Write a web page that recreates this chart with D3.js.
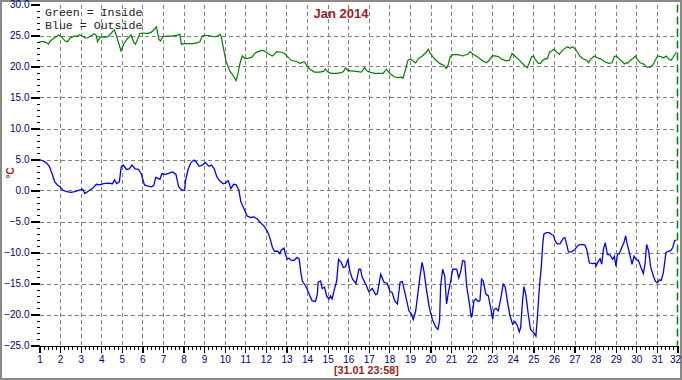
<!DOCTYPE html>
<html>
<head>
<meta charset="utf-8">
<script src="https://cdn.jsdelivr.net/npm/d3@7"></script>
<style>
  html, body { margin: 0; padding: 0; background: #fff; }
  svg { display: block; }
</style>
</head>
<body>
<svg id="chart" width="682" height="380"></svg>
<script>
// ---- data ----
const title = "Jan 2014";
const stamp = "[31.01 23:58]";
const legendLines = ["Green = Inside", "Blue = Outside"];
const unitLabel = "°C";
const dayTicks = d3.range(1, 33);
const tempTicks = [-25, -20, -15, -10, -5, 0, 5, 10, 15, 20, 25, 30];

const insideDay = [1,1.19,1.32,1.44,1.49,1.71,1.93,2.09,2.25,2.36,2.49,2.69,2.85,2.95,3.06,3.22,3.34,3.5,3.66,3.76,3.82,3.92,4.02,4.15,4.31,4.44,4.57,4.64,4.77,4.96,5.09,5.25,5.45,5.58,5.66,5.77,5.87,6.06,6.23,6.42,6.58,6.68,6.8,6.88,7.0,7.2,7.44,7.69,7.82,7.89,8.01,8.18,8.42,8.66,8.79,8.91,9.02,9.23,9.47,9.6,9.68,9.77,9.83,9.93,10.06,10.24,10.42,10.55,10.64,10.74,10.85,10.98,11.12,11.33,11.45,11.61,11.82,11.93,12.1,12.31,12.42,12.53,12.76,12.91,13.02,13.23,13.47,13.67,13.8,13.88,13.96,14.12,14.36,14.61,14.8,14.9,15.01,15.18,15.42,15.66,15.77,15.87,16.0,16.15,16.39,16.63,16.71,16.81,16.9,17.05,17.28,17.53,17.69,17.77,17.85,17.93,18.09,18.26,18.42,18.58,18.66,18.79,18.9,19.02,19.15,19.28,19.39,19.6,19.79,19.89,19.99,20.2,20.44,20.64,20.77,20.85,20.96,21.09,21.33,21.57,21.7,21.82,21.93,22.06,22.3,22.55,22.72,22.85,23.0,23.13,23.29,23.45,23.67,23.83,23.96,24.1,24.27,24.43,24.59,24.7,24.8,24.92,25.0,25.08,25.24,25.35,25.45,25.56,25.68,25.78,25.89,26.0,26.13,26.26,26.38,26.49,26.65,26.78,26.91,27.03,27.14,27.27,27.43,27.59,27.68,27.79,27.95,28.11,28.28,28.44,28.66,28.82,28.93,29.03,29.14,29.3,29.42,29.51,29.58,29.71,29.84,29.95,30.04,30.19,30.35,30.51,30.68,30.81,30.92,31.04,31.17,31.33,31.46,31.57,31.69,31.82,31.94];
const insideTemp = [24.0,24.0,23.9,23.6,24.0,24.6,25.05,24.7,24.1,24.0,24.6,24.9,24.9,25.1,24.95,24.6,24.6,24.95,25.3,25.0,24.0,24.6,24.8,24.7,24.8,25.2,25.75,25.9,24.6,22.5,23.6,24.4,25.1,23.9,23.6,24.4,25.3,25.4,25.3,25.5,26.0,26.4,24.4,24.1,24.8,24.9,24.9,25.05,25.2,23.6,23.7,23.7,23.7,23.8,24.0,24.9,25.0,25.0,24.8,24.8,25.0,25.2,24.8,23.1,20.9,19.3,18.5,17.7,18.8,20.5,21.7,21.3,21.3,21.5,22.1,22.4,22.6,22.5,22.1,21.7,22.0,22.4,22.3,22.1,21.7,21.0,20.8,20.5,20.7,20.7,20.3,19.6,19.1,19.1,19.2,19.6,19.1,18.9,18.9,19.0,19.2,19.8,19.3,19.3,19.2,19.1,19.4,19.8,19.3,19.1,18.9,18.9,18.9,19.2,19.6,19.2,18.7,18.3,18.2,18.3,18.1,19.6,21.0,21.2,20.9,20.6,21.2,21.7,22.3,22.8,22.1,21.2,20.5,20.2,19.7,20.2,21.6,21.9,21.9,21.7,21.9,22.0,22.4,22.0,21.5,20.9,20.6,21.0,21.7,21.7,21.6,21.2,20.9,21.0,22.1,21.7,21.2,20.6,20.1,19.8,20.6,21.6,21.7,21.2,20.5,20.5,21.0,21.2,21.3,22.3,22.5,22.8,22.3,22.0,22.5,22.8,23.2,22.95,23.2,22.8,22.3,21.6,21.2,21.0,20.6,21.2,21.7,21.4,21.2,20.8,20.5,20.6,21.6,21.7,21.3,20.8,20.4,20.6,20.5,21.0,21.3,21.7,21.2,20.6,20.4,19.9,19.9,20.3,21.0,21.7,21.6,21.4,21.7,21.2,21.0,21.7,22.3];

const outsideDay = [1,1.16,1.32,1.48,1.61,1.74,1.87,2.0,2.13,2.32,2.54,2.7,2.94,3.1,3.2,3.4,3.6,3.76,3.95,4.1,4.3,4.55,4.65,4.75,4.88,4.97,5.07,5.23,5.36,5.49,5.65,5.81,5.94,6.1,6.27,6.46,6.56,6.65,6.85,6.95,7.14,7.3,7.47,7.63,7.76,7.92,8.05,8.1,8.23,8.36,8.5,8.62,8.75,8.91,9.07,9.23,9.36,9.49,9.62,9.75,9.92,10.04,10.17,10.3,10.43,10.56,10.69,10.78,10.93,11.09,11.25,11.42,11.58,11.74,11.9,12.06,12.19,12.32,12.42,12.58,12.68,12.75,12.88,12.94,13.04,13.12,13.2,13.36,13.52,13.62,13.69,13.77,13.93,14.0,14.14,14.25,14.41,14.5,14.54,14.66,14.74,14.85,14.95,15.06,15.14,15.22,15.31,15.44,15.53,15.66,15.76,15.87,15.99,16.08,16.21,16.38,16.52,16.6,16.68,16.85,17.0,17.17,17.33,17.41,17.58,17.74,17.9,18.03,18.14,18.26,18.39,18.52,18.63,18.79,18.95,19.07,19.16,19.28,19.39,19.49,19.59,19.68,19.81,19.94,20.09,20.25,20.36,20.44,20.49,20.59,20.69,20.78,20.88,20.98,21.08,21.27,21.37,21.47,21.56,21.66,21.76,21.87,21.98,22.04,22.11,22.2,22.32,22.4,22.48,22.56,22.69,22.81,22.92,23.02,23.08,23.18,23.29,23.41,23.53,23.63,23.73,23.86,23.99,24.1,24.22,24.31,24.38,24.47,24.54,24.64,24.75,24.86,25.03,25.12,25.19,25.29,25.38,25.45,25.51,25.64,25.77,25.88,25.97,26.05,26.16,26.29,26.45,26.53,26.61,26.7,26.86,27.02,27.18,27.34,27.5,27.59,27.72,27.88,28.01,28.04,28.12,28.24,28.32,28.4,28.49,28.59,28.72,28.85,28.93,29.01,29.08,29.17,29.29,29.4,29.48,29.56,29.66,29.79,29.89,29.98,30.1,30.26,30.34,30.42,30.5,30.6,30.7,30.83,30.92,31.02,31.12,31.21,31.31,31.44,31.56,31.67,31.77,31.86,31.93];
const outsideTemp = [5.0,4.8,4.5,3.9,2.7,1.4,0.9,0.6,0.05,-0.2,-0.3,-0.2,0.05,0.2,-0.5,-0.05,0.4,1.0,0.9,1.1,1.2,1.1,1.7,1.1,1.4,3.8,4.1,3.4,3.5,4.1,3.5,3.4,2.7,0.9,0.7,0.6,0.9,2.1,1.8,2.7,2.6,2.8,3.0,2.6,0.6,0.05,0.05,1.7,3.5,4.5,4.9,4.6,3.9,4.1,4.5,3.9,4.1,3.5,2.2,1.6,1.1,1.2,1.6,0.3,1.0,0.9,0.05,-1.8,-2.9,-4.1,-4.35,-4.25,-4.6,-5.2,-5.7,-6.5,-7.6,-9.2,-9.8,-9.8,-10.2,-9.6,-9.3,-10.2,-11.1,-10.9,-11.2,-11.3,-10.8,-11.1,-13.0,-14.6,-15.4,-15.9,-17.0,-17.8,-17.9,-16.7,-14.8,-14.6,-15.8,-15.6,-17.0,-17.5,-17.0,-17.5,-16.2,-14.6,-11.1,-11.6,-12.4,-12.3,-11.1,-13.0,-14.3,-15.0,-12.7,-12.7,-14.0,-15.1,-16.3,-15.8,-16.8,-16.7,-13.5,-14.8,-15.0,-16.3,-16.5,-17.8,-18.3,-14.8,-14.7,-17.0,-19.4,-19.9,-20.8,-19.4,-16.5,-13.8,-11.6,-13.0,-16.2,-18.9,-20.8,-22.0,-22.4,-21.0,-15.4,-12.7,-13.8,-18.3,-16.2,-14.6,-12.7,-12.7,-14.1,-13.0,-11.3,-11.4,-15.6,-17.8,-20.5,-19.7,-17.8,-17.5,-17.9,-17.8,-14.3,-14.6,-16.7,-17.0,-18.9,-20.8,-19.2,-19.0,-19.4,-17.5,-15.1,-15.6,-17.8,-20.2,-21.6,-21.1,-21.8,-22.8,-22.1,-17.8,-15.5,-17.0,-20.0,-22.4,-23.0,-23.5,-20.5,-15.6,-12.4,-8.7,-7.0,-6.8,-6.8,-7.1,-7.2,-8.1,-8.6,-8.6,-7.7,-7.6,-8.6,-9.9,-9.9,-9.5,-8.8,-8.7,-8.8,-9.5,-11.7,-11.8,-11.7,-12.2,-11.6,-11.0,-11.9,-9.5,-8.4,-10.3,-10.4,-11.1,-10.6,-12.2,-10.3,-10.2,-9.2,-8.4,-7.3,-8.7,-10.0,-11.9,-10.6,-11.1,-11.3,-12.7,-13.4,-11.9,-8.7,-9.8,-12.4,-13.8,-14.6,-14.9,-14.4,-14.5,-13.3,-10.0,-9.8,-9.7,-9.2,-8.1,-8.0];

// ---- drawing ----
const svg = d3.select("#chart");
const W = 682, H = 380;
const mLeft = 39.5, mRight = 677.5, mTop = 4.5, mBottom = 345.5;

const x = d3.scaleLinear().domain([1, 32]).range([mLeft, mRight]);
const y = d3.scaleLinear().domain([-25, 30]).range([mBottom, mTop]);

svg.append("rect").attr("width", W).attr("height", H).attr("fill", "#fff");
svg.append("rect").attr("x", 1).attr("y", 1).attr("width", W - 2).attr("height", H - 2)
  .attr("fill", "none").attr("stroke", "#8a8a8a").attr("stroke-width", 2);

const navy = "#000080";
const font = "'Liberation Sans', Arial, sans-serif";
const tickFont = "'Liberation Sans Narrow', 'Arial Narrow', 'Liberation Sans', Arial, sans-serif";

// grid
const grid = svg.append("g").attr("stroke", "#808080").attr("stroke-width", 1)
  .attr("stroke-dasharray", "4,3").attr("shape-rendering", "crispEdges");
grid.selectAll("line.v").data(dayTicks.filter(d => d > 1 && d < 32)).join("line")
  .attr("class", "v")
  .attr("x1", d => Math.round(x(d)) + 0.5).attr("x2", d => Math.round(x(d)) + 0.5)
  .attr("y1", mTop).attr("y2", mBottom);
grid.selectAll("line.h").data(tempTicks.filter(t => t > -25 && t < 30)).join("line")
  .attr("class", "h")
  .attr("x1", mLeft).attr("x2", mRight)
  .attr("y1", d => Math.round(y(d)) + 0.5).attr("y2", d => Math.round(y(d)) + 0.5);

// current-time marker
svg.append("line").attr("x1", Math.round(x(32)) - 0.5).attr("x2", Math.round(x(32)) - 0.5)
  .attr("y1", mTop).attr("y2", mBottom)
  .attr("stroke", "#008000").attr("stroke-width", 1.5).attr("stroke-dasharray", "8,4");

// y axis minor ticks
const yMinor = d3.range(-25, 31).filter(v => v % 5 !== 0);
svg.append("g").attr("transform", `translate(${mLeft},0)`)
  .call(d3.axisLeft(y).tickValues(yMinor).tickSize(3).tickFormat(""))
  .call(g => g.select(".domain").remove())
  .call(g => g.selectAll("line").attr("stroke", "#000").attr("shape-rendering", "crispEdges"));
// y axis major
svg.append("g").attr("transform", `translate(${mLeft},0)`)
  .call(d3.axisLeft(y).tickValues(tempTicks).tickSize(9).tickPadding(1).tickFormat(d3.format(".1f")))
  .call(g => g.select(".domain").remove())
  .call(g => g.selectAll("line").attr("stroke", "#000").attr("stroke-width", 1.2).attr("shape-rendering", "crispEdges"))
  .call(g => g.selectAll("text").attr("fill", navy).attr("font-family", tickFont).attr("font-size", 10));

// x axis minor ticks
const xMinor = d3.range(0, 31 * 5).map(i => 1 + i / 5).filter((v, i) => i % 5 !== 0);
svg.append("g").attr("transform", `translate(0,${mBottom})`)
  .call(d3.axisBottom(x).tickValues(xMinor).tickSize(4).tickFormat(""))
  .call(g => g.select(".domain").remove())
  .call(g => g.selectAll("line").attr("stroke", "#000").attr("shape-rendering", "crispEdges"));
// x axis major
svg.append("g").attr("transform", `translate(0,${mBottom})`)
  .call(d3.axisBottom(x).tickValues(dayTicks).tickSize(7).tickSizeOuter(0).tickPadding(3).tickFormat(d3.format("d")))
  .call(g => g.select(".domain").attr("stroke", "#000").attr("stroke-width", 1).attr("shape-rendering", "crispEdges"))
  .call(g => g.selectAll("line").attr("stroke", "#000").attr("stroke-width", 1.2).attr("shape-rendering", "crispEdges"))
  .call(g => g.selectAll("text").attr("fill", navy).attr("font-family", tickFont).attr("font-size", 10)
    .attr("dx", d => d === 32 ? -2.5 : 0));

// series
const line = d3.line().x(d => x(d[0])).y(d => y(d[1]));
svg.append("path").datum(d3.zip(insideDay, insideTemp))
  .attr("d", line).attr("fill", "none").attr("stroke", "#008000").attr("stroke-width", 1.2);
svg.append("path").datum(d3.zip(outsideDay, outsideTemp))
  .attr("d", line).attr("fill", "none").attr("stroke", "#0000ff").attr("stroke-width", 1.3);

// texts
svg.append("text").attr("x", 341).attr("y", 18).attr("text-anchor", "middle")
  .attr("font-family", font).attr("font-weight", "bold").attr("font-size", 13)
  .attr("fill", "#9b1c1c").text(title);

svg.selectAll("text.legend").data(legendLines).join("text")
  .attr("class", "legend")
  .attr("x", 45).attr("y", (d, i) => 16 + i * 13)
  .attr("font-family", "'Liberation Mono', 'Courier New', monospace").attr("font-size", 11.6)
  .attr("fill", "#222").text(d => d);

svg.append("text").attr("transform", "translate(14,173) rotate(-90)")
  .attr("text-anchor", "middle")
  .attr("font-family", font).attr("font-weight", "bold").attr("font-size", 10)
  .attr("fill", "#a01818").text(unitLabel);

svg.append("text").attr("x", 334).attr("y", 374)
  .attr("font-family", font).attr("font-weight", "bold").attr("font-size", 10.8)
  .attr("fill", "#9b1c1c").text(stamp);
</script>
</body>
</html>
